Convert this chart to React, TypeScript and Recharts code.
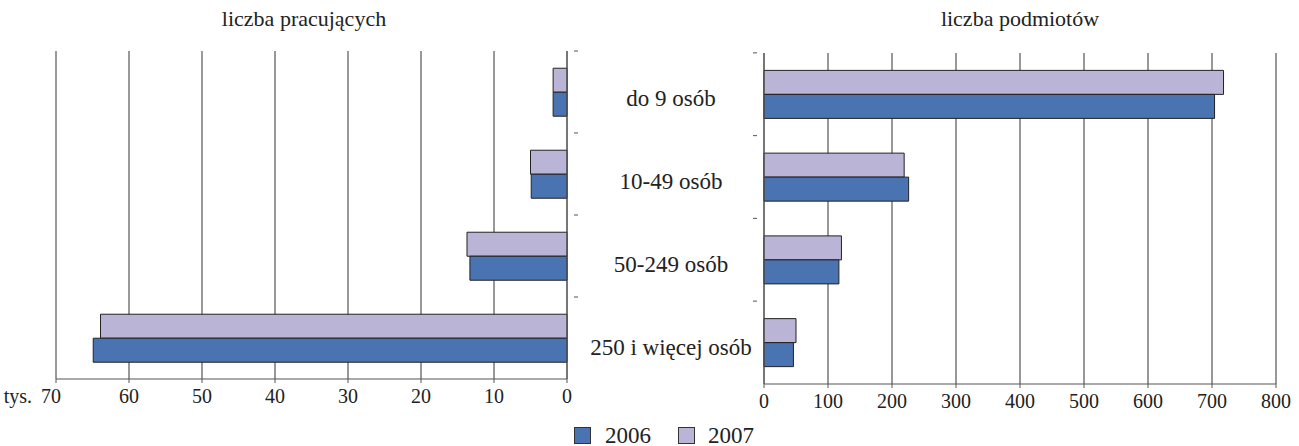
import React from "react";
import { BarChart, Bar, XAxis, YAxis, CartesianGrid } from "recharts";

const categories = ["do 9 osób", "10-49 osób", "50-249 osób", "250 i więcej osób"];
const workers2006 = [1.9, 4.9, 13.3, 64.9];
const workers2007 = [1.9, 5.0, 13.7, 63.9];
const entities2006 = [704, 226, 117, 46];
const entities2007 = [718, 219, 121, 50];
const workerTicks = [0, 10, 20, 30, 40, 50, 60, 70];
const entityTicks = [0, 100, 200, 300, 400, 500, 600, 700, 800];

const BLUE = "#4a73b1";
const PURPLE = "#bab4d7";
const INK = "#222";
const FONT = "Liberation Serif";

const workersData = categories.map((name, i) => ({
  name,
  y2006: workers2006[i],
  y2007: workers2007[i],
}));
const entitiesData = categories.map((name, i) => ({
  name,
  y2006: entities2006[i],
  y2007: entities2007[i],
}));

function Label(props: any) {
  const { x, y, size, anchor, children, dy } = props;
  return (
    <text
      x={x}
      y={y}
      dy={dy}
      textAnchor={anchor}
      fontSize={size}
      fontFamily={FONT}
      fill={INK}
      style={{ fontFamily: FONT }}
    >
      {children}
    </text>
  );
}

// x tick for the left panel, "70" gets the unit prefix
function WorkerTick(props: any) {
  const { x, y, payload } = props;
  if (payload.value === 70) {
    return (
      <g>
        <Label x={x - 24} y={y + 18} anchor="end" size={20}>tys.</Label>
        <Label x={x - 5} y={y + 18} anchor="middle" size={20}>70</Label>
      </g>
    );
  }
  return (
    <Label x={x} y={y + 18} anchor="middle" size={20}>
      {payload.value}
    </Label>
  );
}

function NumTick(props: any) {
  const { x, y, payload } = props;
  return (
    <Label x={x} y={y + 18} anchor="middle" size={20}>
      {payload.value}
    </Label>
  );
}

// ticks at band edges rather than centres
function EdgeTickRight(props: any) {
  const { x, y } = props;
  return <line x1={x - 1} x2={x + 3} y1={y - 41} y2={y - 41} stroke="#555" />;
}

function CategoryTick(props: any) {
  const { x, y, payload } = props;
  return (
    <g>
      <line x1={x - 3} x2={x + 1} y1={y - 41.5} y2={y - 41.5} stroke="#555" />
      <Label x={131} y={y + 4} dy="0.35em" anchor="middle" size={23}>
        {payload.value}
      </Label>
    </g>
  );
}

export default function App() {
  return (
    <div
      style={{
        position: "absolute",
        left: 0,
        top: 0,
        width: 1299,
        height: 446,
        background: "#fff",
        fontFamily: FONT,
        color: INK,
      }}
    >
      <div style={{ position: "absolute", left: 154, top: 6, width: 300, textAlign: "center", fontSize: 22 }}>
        liczba pracujących
      </div>
      <div style={{ position: "absolute", left: 870, top: 6, width: 300, textAlign: "center", fontSize: 22 }}>
        liczba podmiotów
      </div>

      <div style={{ position: "absolute", left: 0, top: 0 }}>
        <BarChart
          width={600}
          height={446}
          data={workersData}
          layout="vertical"
          margin={{ top: 51, right: 29, left: 56, bottom: 37 }}
          barCategoryGap="21%"
          barGap={0}
        >
          <CartesianGrid horizontal={false} stroke="#333" />
          <XAxis
            type="number"
            domain={[0, 70]}
            ticks={workerTicks}
            reversed
            interval={0}
            height={30}
            stroke="#555"
            tickSize={4}
            tick={<WorkerTick />}
          />
          <YAxis
            type="category"
            dataKey="name"
            orientation="right"
            width={4}
            stroke="#555"
            tick={<EdgeTickRight />}
            tickLine={false}
          />
          <Bar dataKey="y2007" fill={PURPLE} stroke={INK} strokeWidth={1} isAnimationActive={false} />
          <Bar dataKey="y2006" fill={BLUE} stroke={INK} strokeWidth={1} isAnimationActive={false} />
        </BarChart>
      </div>

      <div style={{ position: "absolute", left: 540, top: 0 }}>
        <BarChart
          width={759}
          height={446}
          data={entitiesData}
          layout="vertical"
          margin={{ top: 53, right: 23, left: 0, bottom: 32 }}
          barCategoryGap="21%"
          barGap={0}
        >
          <CartesianGrid horizontal={false} stroke="#333" />
          <XAxis
            type="number"
            domain={[0, 800]}
            ticks={entityTicks}
            interval={0}
            height={30}
            stroke="#555"
            tickSize={4}
            tick={<NumTick />}
          />
          <YAxis
            type="category"
            dataKey="name"
            width={224}
            stroke="#555"
            tick={<CategoryTick />}
            tickLine={false}
          />
          <Bar dataKey="y2007" fill={PURPLE} stroke={INK} strokeWidth={1} isAnimationActive={false} />
          <Bar dataKey="y2006" fill={BLUE} stroke={INK} strokeWidth={1} isAnimationActive={false} />
        </BarChart>
      </div>

      <span style={{ position: "absolute", left: 574, top: 427, width: 15, height: 15, background: BLUE, border: "1px solid #333" }} />
      <span style={{ position: "absolute", left: 605, top: 424, fontSize: 23, lineHeight: "23px" }}>2006</span>
      <span style={{ position: "absolute", left: 678, top: 427, width: 15, height: 15, background: PURPLE, border: "1px solid #333" }} />
      <span style={{ position: "absolute", left: 708, top: 424, fontSize: 23, lineHeight: "23px" }}>2007</span>
    </div>
  );
}
